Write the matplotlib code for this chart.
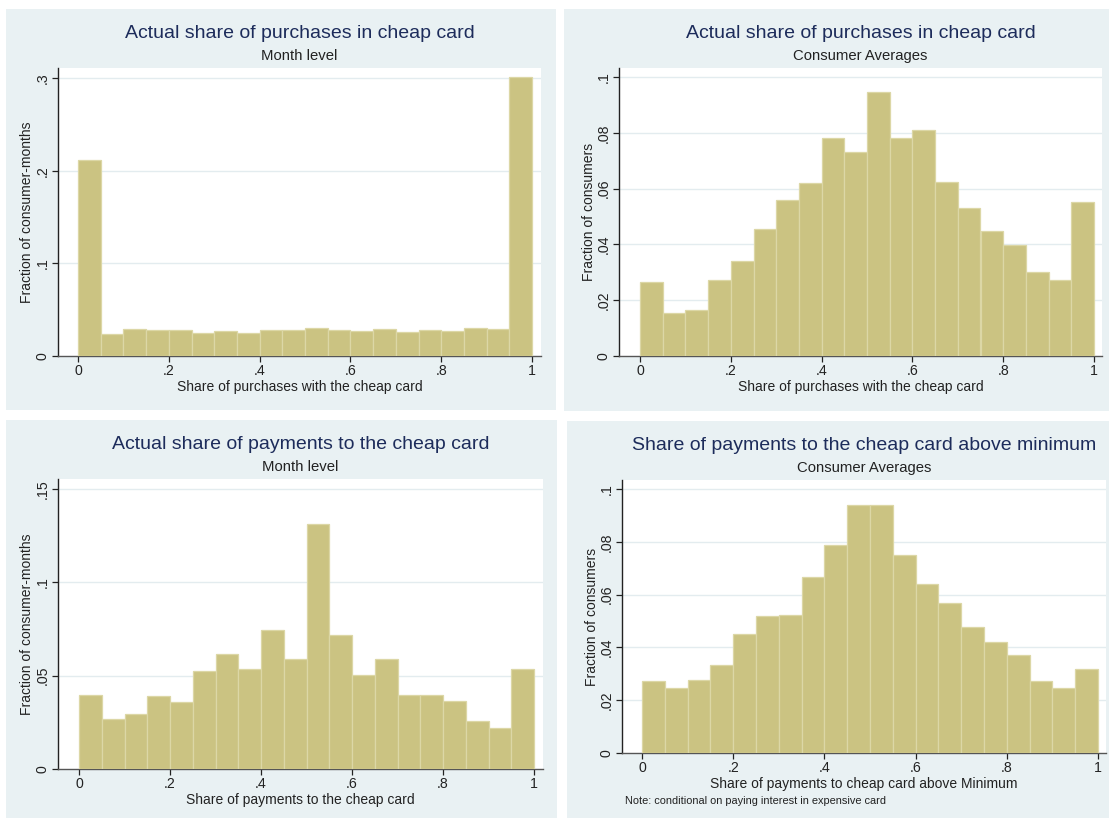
import matplotlib
matplotlib.use('Agg')
import matplotlib.pyplot as plt
from matplotlib.patches import Rectangle
import numpy as np

plt.rcParams['font.family'] = ['Liberation Sans', 'DejaVu Sans']

# histogram bin edges (20 bins of width .05)
bin_edges = np.linspace(0, 1, 21)

purchases_month = [0.211, 0.0237, 0.0287, 0.0277, 0.0277, 0.0248, 0.0266, 0.0252, 0.0284, 0.0284,
                   0.0305, 0.0284, 0.0266, 0.0287, 0.0255, 0.0277, 0.0266, 0.0298, 0.0295, 0.3015]
purchases_consumer = [0.0265, 0.0154, 0.0166, 0.0271, 0.0342, 0.0454, 0.0560, 0.0619, 0.0780, 0.0732,
                      0.0946, 0.0780, 0.0810, 0.0624, 0.0529, 0.0449, 0.0397, 0.0301, 0.0272, 0.0553]
payments_month = [0.0398, 0.0266, 0.0293, 0.0389, 0.0361, 0.0527, 0.0614, 0.0538, 0.0746, 0.0588,
                  0.1314, 0.0720, 0.0502, 0.0589, 0.0398, 0.0396, 0.0363, 0.0259, 0.0221, 0.0538]
payments_above_min = [0.0274, 0.0247, 0.0278, 0.0333, 0.0451, 0.0518, 0.0524, 0.0665, 0.0788, 0.0938,
                      0.0938, 0.0749, 0.0640, 0.0567, 0.0479, 0.0419, 0.0371, 0.0271, 0.0245, 0.0318]

x_ticks = [0, 0.2, 0.4, 0.6, 0.8, 1]
x_ticklabels = ['0', '.2', '.4', '.6', '.8', '1']

W, H = 1109, 819
BG = '#e9f1f3'
BAR = '#cbc382'
BAR_EDGE = '#dcd7a6'
TITLE_COLOR = '#1d2c5b'
TEXT = '#222222'

fig = plt.figure(figsize=(W / 100, H / 100), dpi=100)


def px_rect(left, top, right, bottom):
    return [left / W, 1 - bottom / H, (right - left) / W, (bottom - top) / H]


panels = [
    # graph region and plot region in pixels, pixel spots of x=0, x=1, the top y tick and the y title
    dict(region=(6, 9, 556, 410), plot=(58, 68, 541, 356), x0=78, x1=532, ytop=78, ylab_x=27,
         values=purchases_month, yticks=[0, 0.1, 0.2, 0.3], yticklabels=['0', '.1', '.2', '.3'],
         title='Actual share of purchases in cheap card', subtitle='Month level',
         xlabel='Share of purchases with the cheap card', ylabel='Fraction of consumer-months'),
    dict(region=(564, 9, 1109, 411), plot=(619, 68, 1102, 356), x0=640, x1=1094, ytop=77, ylab_x=589,
         values=purchases_consumer, yticks=[0, 0.02, 0.04, 0.06, 0.08, 0.1],
         yticklabels=['0', '.02', '.04', '.06', '.08', '.1'],
         title='Actual share of purchases in cheap card', subtitle='Consumer Averages',
         xlabel='Share of purchases with the cheap card', ylabel='Fraction of consumers'),
    dict(region=(6, 420, 557, 818), plot=(58, 479, 543, 769), x0=79, x1=534, ytop=489, ylab_x=27,
         values=payments_month, yticks=[0, 0.05, 0.1, 0.15], yticklabels=['0', '.05', '.1', '.15'],
         title='Actual share of payments to the cheap card', subtitle='Month level',
         xlabel='Share of payments to the cheap card', ylabel='Fraction of consumer-months'),
    dict(region=(567, 421, 1109, 818), plot=(622, 480, 1106, 753), x0=642, x1=1098, ytop=489, ylab_x=592,
         values=payments_above_min, yticks=[0, 0.02, 0.04, 0.06, 0.08, 0.1],
         yticklabels=['0', '.02', '.04', '.06', '.08', '.1'],
         title='Share of payments to the cheap card above minimum', subtitle='Consumer Averages',
         xlabel='Share of payments to cheap card above Minimum', ylabel='Fraction of consumers'),
]

for p in panels:
    rl, rt, rr, rb = p['region']
    fig.patches.append(Rectangle((rl / W, 1 - rb / H), (rr - rl) / W, (rb - rt) / H,
                                 transform=fig.transFigure, facecolor=BG, edgecolor='none',
                                 zorder=-5))
    pl, pt, pr, pb = p['plot']
    ax = fig.add_axes(px_rect(pl, pt, pr, pb))
    ax.bar(bin_edges[:-1], p['values'], width=np.diff(bin_edges), align='edge',
           color=BAR, edgecolor=BAR_EDGE, linewidth=0.9, zorder=3)

    # axis limits so that 0/1 and the top tick land where the plot region puts them
    sx = (p['x1'] - p['x0'])
    ax.set_xlim((pl - p['x0']) / sx, 1 + (pr - p['x1']) / sx)
    ytop_val = p['yticks'][-1]
    sy = (pb - p['ytop']) / ytop_val
    ax.set_ylim(0, ytop_val + (p['ytop'] - pt) / sy)

    ax.set_xticks(x_ticks)
    ax.set_xticklabels(x_ticklabels, fontsize=10.2)
    ax.set_yticks(p['yticks'])
    ax.set_yticklabels(p['yticklabels'], fontsize=10.2, rotation=90, va='center')
    ax.tick_params(axis='both', direction='out', length=4, width=0.9, colors=TEXT, pad=2)
    for y in p['yticks'][1:]:
        ax.axhline(y, color='#e3ecef', linewidth=1.0, zorder=1)

    for side in ('top', 'right'):
        ax.spines[side].set_visible(False)
    ax.spines['left'].set_color(TEXT)
    ax.spines['bottom'].set_color('#555555')
    ax.spines['left'].set_linewidth(1.0)
    ax.spines['bottom'].set_linewidth(1.0)

    ax.set_xlabel(p['xlabel'], fontsize=10, color=TEXT, labelpad=1)
    ax.set_ylabel(p['ylabel'], fontsize=10, color=TEXT, va='center')
    ax.yaxis.set_label_coords((p['ylab_x'] - pl) / (pr - pl), 0.5)

    cx = (pl + pr) / 2 / W
    fig.text(cx, 1 - (pt - 34) / H, p['title'], fontsize=14, color=TITLE_COLOR,
             ha='center', va='center')
    fig.text(cx, 1 - (pt - 12) / H, p['subtitle'], fontsize=10.7, color=TEXT,
             ha='center', va='center')

fig.text(625 / W, 1 - 801 / H, 'Note: conditional on paying interest in expensive card',
         fontsize=7.9, color=TEXT, ha='left', va='center')

fig.savefig('out.png', dpi=100)
